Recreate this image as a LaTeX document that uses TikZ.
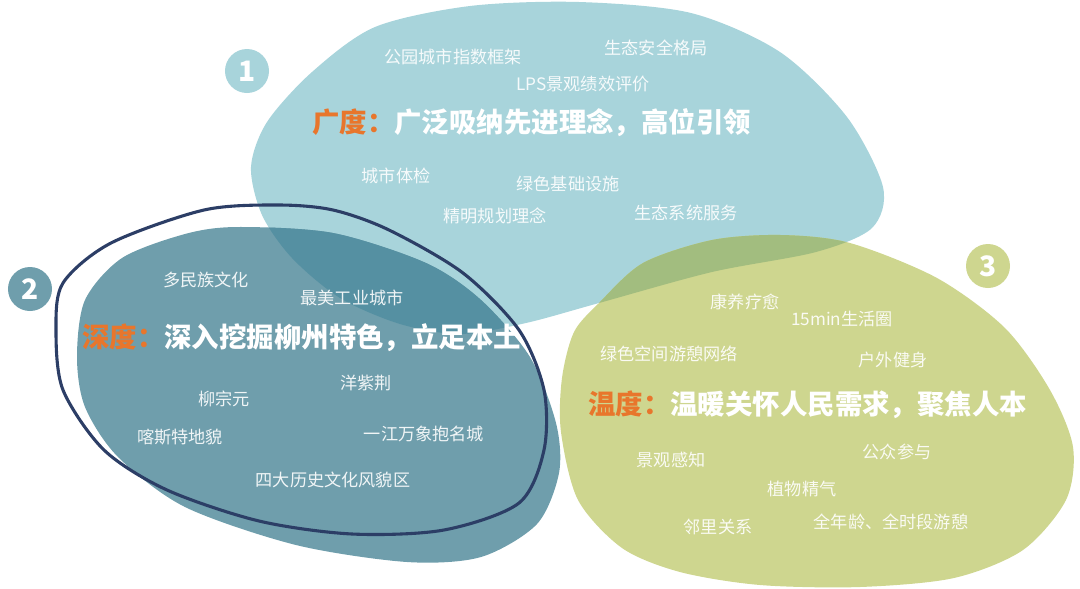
\documentclass[tikz,border=0pt]{standalone}
\usepackage{fontspec}
\setmainfont{Noto Sans CJK SC}
\usepackage{xcolor}
\usepackage{tikz}
\usetikzlibrary{positioning}
\definecolor{bluelight}{HTML}{A8D4DB}
\definecolor{bluedeep}{HTML}{6F9EAC}
\definecolor{bluemix}{HTML}{5590A2}
\definecolor{greenlight}{HTML}{CED68F}
\definecolor{greenmix}{HTML}{A2BD7F}
\definecolor{navy}{HTML}{2C3E66}
\definecolor{accent}{HTML}{E8762C}
\tikzset{
    tnode/.style = {align=center, inner sep=0pt, text centered},
    tag/.style = {tnode, white, text opacity=0.9, font=\fontsize{12.2}{14}\selectfont},
    title/.style = {tnode, anchor=west, white, font=\bfseries\fontsize{19.5}{22}\selectfont},
    num_node/.style = {tnode, circle, white, minimum size=1.1cm, font=\bfseries\fontsize{20}{22}\selectfont}
}
% blob outlines, pixel coordinates
\newcommand{\blobwide}{plot[smooth cycle] coordinates {(251,167) (267,122) (312,72) (375,27) (470,6) (579,2) (691,13) (780,52) (847,117) (883,187) (872,228) (816,252) (712,272) (599,303) (526,323) (460,334) (400,324) (340,298) (292,258) (262,215)}}
\newcommand{\blobdeep}{plot[smooth cycle] coordinates {(237,227) (185,234) (122,258) (85,300) (77,357) (85,407) (118,457) (185,507) (296,545) (407,562) (481,557) (537,524) (559,473) (556,423) (530,357) (481,300) (426,263) (333,233)}}
\newcommand{\blobwarm}{plot[smooth cycle] coordinates {(599,303) (643,263) (712,240) (781,235) (850,243) (937,278) (1005,328) (1050,390) (1073,447) (1066,500) (1023,550) (954,578) (860,587) (760,585) (680,572) (622,548) (578,500) (561,432) (562,378) (574,332)}}
\newcommand{\ringdeep}{plot[smooth cycle] coordinates {(278,205) (204,210) (111,243) (63,283) (56,330) (63,390) (104,450) (167,490) (259,521) (352,534) (444,530) (519,503) (544,450) (544,390) (519,330) (463,273) (389,230) (333,210)}}

\begin{document}
\begin{tikzpicture}[x=0.025cm, y=-0.025cm]
    \useasboundingbox (0,0) rectangle (1080,588);
    % blobs
    \fill[bluelight] \blobwide;
    \fill[greenlight] \blobwarm;
    \fill[bluedeep] \blobdeep;
    \begin{scope}
        \clip \blobwide;
        \fill[bluemix] \blobdeep;
        \fill[greenmix] \blobwarm;
    \end{scope}
    \draw[navy, line width=2.2pt] \ringdeep;

    % numbers
    \node[num_node, fill=bluelight] (n1) at (247,71) {1};
    \node[num_node, fill=bluedeep] (n2) at (30,289) {2};
    \node[num_node, fill=greenlight] (n3) at (988,266) {3};

    % breadth
    \node[title] (t1) at (312,123) {{\color{accent}广度：}广泛吸纳先进理念，高位引领};
    \node[tag] (a1) at (453,57) {公园城市指数框架};
    \node[tag] (a2) at (656,48) {生态安全格局};
    \node[tag] (a3) at (583,84) {LPS景观绩效评价};
    \node[tag] (a4) at (396,176) {城市体检};
    \node[tag] (a5) at (568,184) {绿色基础设施};
    \node[tag] (a6) at (495,216) {精明规划理念};
    \node[tag] (a7) at (686,213) {生态系统服务};

    % depth
    \node[title] (t2) at (82,338) {{\color{accent}深度：}深入挖掘柳州特色，立足本土};
    \node[tag] (b1) at (206,280) {多民族文化};
    \node[tag] (b2) at (352,298) {最美工业城市};
    \node[tag] (b3) at (366,383) {洋紫荆};
    \node[tag] (b4) at (224,399) {柳宗元};
    \node[tag] (b5) at (180,437) {喀斯特地貌};
    \node[tag] (b6) at (424,434) {一江万象抱名城};
    \node[tag] (b7) at (333,480) {四大历史文化风貌区};

    % warmth
    \node[title] (t3) at (588,405) {{\color{accent}温度：}温暖关怀人民需求，聚焦人本};
    \node[tag] (c1) at (745,302) {康养疗愈};
    \node[tag] (c2) at (842,319) {15min生活圈};
    \node[tag] (c3) at (669,354) {绿色空间游憩网络};
    \node[tag] (c4) at (893,360) {户外健身};
    \node[tag] (c5) at (671,460) {景观感知};
    \node[tag] (c6) at (897,452) {公众参与};
    \node[tag] (c7) at (802,489) {植物精气};
    \node[tag] (c8) at (718,527) {邻里关系};
    \node[tag] (c9) at (891,522) {全年龄、全时段游憩};
\end{tikzpicture}
\end{document}
